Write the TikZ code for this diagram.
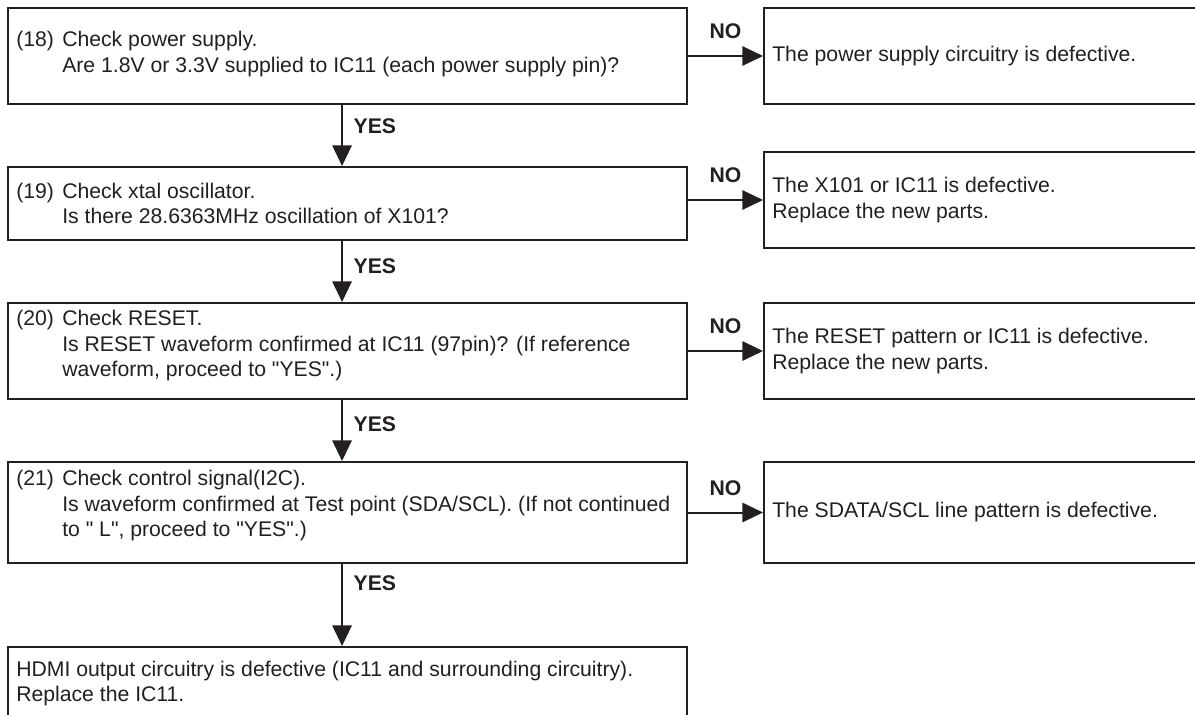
\documentclass[tikz,border=0pt]{standalone}
\usepackage{fontspec}
\setmainfont{Liberation Sans}[Ligatures=TeXOff]
\usetikzlibrary{arrows.meta,fit}
\definecolor{ink}{RGB}{35,31,32}
\newcommand{\hang}[1]{\makebox[34.5pt][l]{#1}}
\newcommand{\ind}{\hspace*{34.5pt}}
\begin{document}
\begin{tikzpicture}[x=0.75pt,y=-0.75pt,
  box/.style={draw=ink, line width=1.5pt, inner sep=0pt},
  txt/.style={inner sep=0pt, align=left, text=ink, font=\fontsize{15.9}{19}\selectfont},
  lbl/.style={inner sep=0pt, text=ink, font=\fontsize{15.9}{19}\selectfont\bfseries},
  arr/.style={draw=ink, line width=1.5pt, -{Triangle[length=15.5pt,width=14.5pt]}}]
\useasboundingbox (0,0) rectangle (1195,714);
\clip (0,0) rectangle (1195,714);
% left boxes
\node[box, fit={(8,8) (687,104)}] (b18) {};
\node[box, fit={(8,167) (687,240)}] (b19) {};
\node[box, fit={(8,303) (687,399)}] (b20) {};
\node[box, fit={(8,462) (687,563)}] (b21) {};
\node[box, fit={(8,647) (687,740)}] (bH) {};
% right boxes
\node[box, fit={(764,8) (1215,104)}] (r18) {};
\node[box, fit={(764,152) (1215,248)}] (r19) {};
\node[box, fit={(764,303) (1215,399)}] (r20) {};
\node[box, fit={(764,462) (1215,563)}] (r21) {};
% texts
\node[txt, anchor=west] (t18) at ([xshift=6.75pt,yshift=1.5pt]b18.west)
  {\hang{(18)}Check power supply.\\ \ind Are 1.8V or 3.3V supplied to IC11 (each power supply pin)?};
\node[txt, anchor=west] (t19) at ([xshift=6.75pt,yshift=0pt]b19.west)
  {\hang{(19)}Check xtal oscillator.\\ \ind Is there 28.6363MHz oscillation of X101?};
\node[txt, anchor=west] (t20) at ([xshift=6.75pt,yshift=4pt]b20.west)
  {\hang{(20)}Check RESET.\\ \ind Is RESET waveform confirmed at IC11 (97pin)? (If reference\\ \ind waveform, proceed to "YES".)};
\node[txt, anchor=west] (t21) at ([xshift=6.75pt,yshift=5pt]b21.west)
  {\hang{(21)}Check control signal(I2C).\\ \ind Is waveform confirmed at Test point (SDA/SCL). (If not continued\\ \ind to "\ L", proceed to "YES".)};
\node[txt, anchor=north west] (tH) at ([xshift=6.75pt,yshift=-11.25pt]bH.north west)
  {HDMI output circuitry is defective (IC11 and surrounding circuitry).\\ Replace the IC11.};
\node[txt, anchor=west] (s18) at ([xshift=6.75pt]r18.west) {The power supply circuitry is defective.};
\node[txt, anchor=west] (s19) at ([xshift=6.75pt]r19.west) {The X101 or IC11 is defective.\\ Replace the new parts.};
\node[txt, anchor=west] (s20) at ([xshift=6.75pt]r20.west) {The RESET pattern or IC11 is defective.\\ Replace the new parts.};
\node[txt, anchor=west] (s21) at ([xshift=6.75pt]r21.west) {The SDATA/SCL line pattern is defective.};
% NO arrows
\foreach \a/\b in {b18/r18, b19/r19, b20/r20, b21/r21}
  \draw[arr] (\a.east |- \b.west) -- node[lbl, midway, above=12.2pt] {NO} (\b.west);
% YES arrows
\draw[arr] ([xshift=-4.1pt]b18.south) -- node[lbl, pos=0.35, anchor=west, xshift=8pt] {YES} ([xshift=-4.1pt]b19.north);
\draw[arr] ([xshift=-4.1pt]b19.south) -- node[lbl, pos=0.41, anchor=west, xshift=8pt] {YES} ([xshift=-4.1pt]b20.north);
\draw[arr] ([xshift=-4.1pt]b20.south) -- node[lbl, pos=0.40, anchor=west, xshift=8pt] {YES} ([xshift=-4.1pt]b21.north);
\draw[arr] ([xshift=-4.1pt]b21.south) -- node[lbl, pos=0.23, anchor=west, xshift=8pt] {YES} ([xshift=-4.1pt]bH.north);
\end{tikzpicture}
\end{document}
